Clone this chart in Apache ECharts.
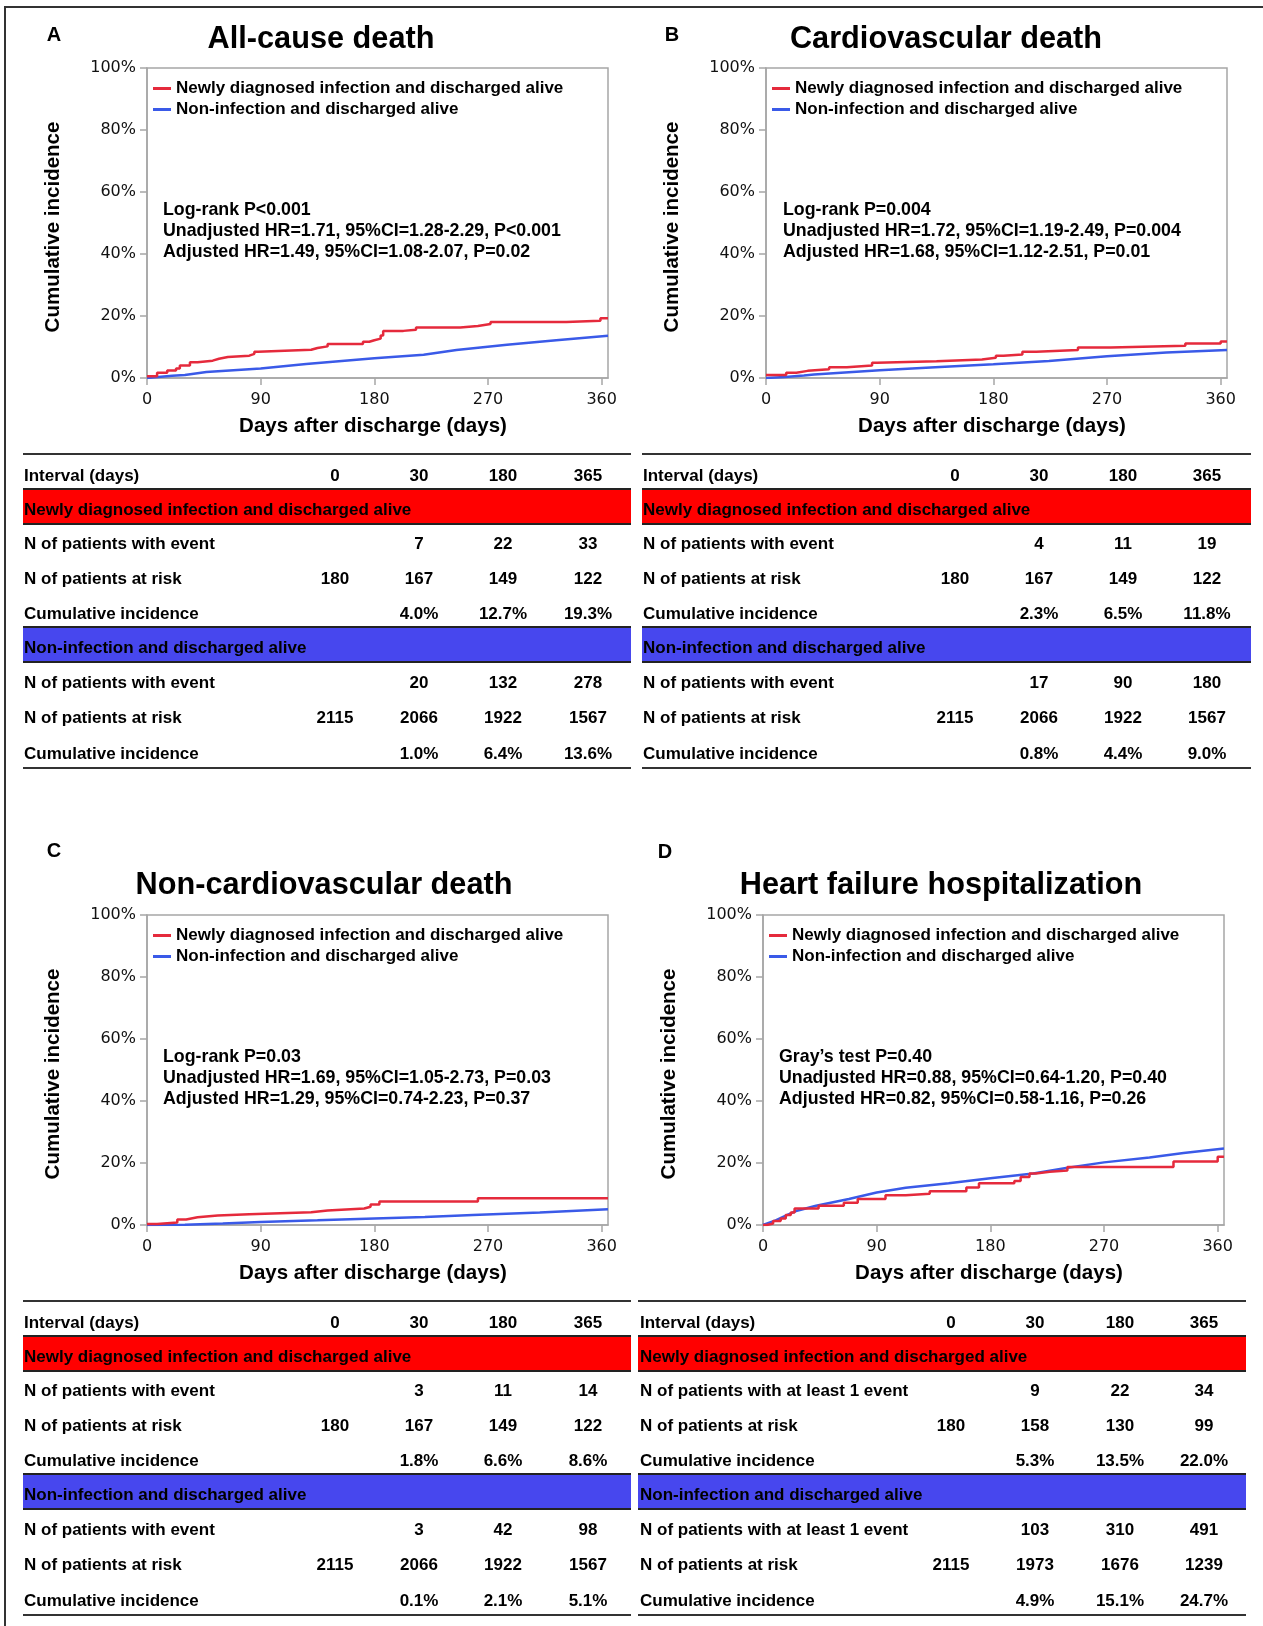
<!DOCTYPE html>
<html>
<head>
<meta charset="utf-8">
<script src="https://cdn.jsdelivr.net/npm/echarts@6/dist/echarts.min.js"></script>
<style>
  html, body { margin: 0; padding: 0; background: #fff; }
  #chart { width: 1263px; height: 1626px; }
</style>
</head>
<body>
<div id="chart"></div>
<script>
// ---- text ----
const nameInf = 'Newly diagnosed infection and discharged alive';
const nameNon = 'Non-infection and discharged alive';
const panelLetters = ['A', 'B', 'C', 'D'];
const panelTitles = ['All-cause death', 'Cardiovascular death', 'Non-cardiovascular death', 'Heart failure hospitalization'];
const xAxisTitle = 'Days after discharge (days)';
const yAxisTitle = 'Cumulative incidence';
const xTicks = [0, 90, 180, 270, 360];
const yTicks = [0, 20, 40, 60, 80, 100];

const statsA = ['Log-rank P<0.001', 'Unadjusted HR=1.71, 95%CI=1.28-2.29, P<0.001', 'Adjusted HR=1.49, 95%CI=1.08-2.07, P=0.02'];
const statsB = ['Log-rank P=0.004', 'Unadjusted HR=1.72, 95%CI=1.19-2.49, P=0.004', 'Adjusted HR=1.68, 95%CI=1.12-2.51, P=0.01'];
const statsC = ['Log-rank P=0.03', 'Unadjusted HR=1.69, 95%CI=1.05-2.73, P=0.03', 'Adjusted HR=1.29, 95%CI=0.74-2.23, P=0.37'];
const statsD = ['Gray\u2019s test P=0.40', 'Unadjusted HR=0.88, 95%CI=0.64-1.20, P=0.40', 'Adjusted HR=0.82, 95%CI=0.58-1.16, P=0.26'];

// ---- cumulative incidence curves: [day, %] ----
const curveA_inf = [[0,0.6],[8,1.7],[16,2.4],[23,3.1],[26,4.0],[34,5.1],[40,5.6],[52,6.2],[57,6.8],[64,7.2],[81,7.8],[85,8.5],[88,9.1],[130,9.7],[135,10.2],[143,11.0],[171,11.7],[176,12.2],[180,12.7],[185,13.7],[187,15.2],[203,15.6],[213,16.3],[248,16.8],[262,17.4],[272,18.1],[332,18.5],[359,19.3],[365,19.3]];
const curveA_non = [[0,0],[20,0.7],[30,1.0],[47,1.9],[90,3.1],[126,4.5],[180,6.4],[219,7.5],[245,9.0],[285,10.7],[324,12.2],[365,13.6]];

const curveB_inf = [[0,1.0],[16,1.7],[24,2.3],[33,2.8],[50,3.5],[64,4.0],[84,4.9],[88,5.4],[135,6.0],[171,6.5],[182,7.2],[188,7.6],[203,8.5],[214,9.0],[247,9.8],[273,10.4],[332,11.1],[360,11.8],[365,11.8]];
const curveB_non = [[0,0],[15,0.3],[30,0.8],[38,1.1],[90,2.5],[134,3.5],[180,4.4],[224,5.5],[270,7.0],[317,8.2],[365,9.0]];

const curveC_inf = [[0,0.3],[8,0.8],[24,1.8],[31,2.2],[36,2.5],[40,3.1],[56,3.5],[81,4.1],[130,4.7],[143,5.3],[172,5.9],[177,6.6],[184,7.6],[262,8.6],[365,8.6]];
const curveC_non = [[0,0],[30,0.1],[60,0.5],[90,1.0],[135,1.5],[180,2.1],[220,2.6],[258,3.2],[311,4.0],[365,5.1]];

const curveD_inf = [[0,0],[3,0.5],[8,1.3],[14,2.1],[18,3.2],[22,4.0],[25,5.3],[44,6.2],[64,7.2],[75,8.4],[97,9.6],[113,10.1],[132,10.9],[161,12.1],[171,13.5],[199,14.2],[204,15.5],[211,16.6],[216,17.2],[227,17.6],[241,18.7],[325,20.5],[360,22.0],[365,22.0]];
const curveD_non = [[0,0],[10,1.5],[18,3.0],[26,4.5],[30,4.9],[42,6.2],[68,8.4],[90,10.5],[113,12.0],[147,13.5],[180,15.1],[214,16.6],[240,18.4],[270,20.2],[306,21.8],[333,23.2],[365,24.7]];

// ---- number-at-risk tables ----
const intervalDays = ['0', '30', '180', '365'];
const rowLabels = ['N of patients with event', 'N of patients at risk', 'Cumulative incidence'];
const rowLabelsHF = ['N of patients with at least 1 event', 'N of patients at risk', 'Cumulative incidence'];

const eventsA_inf = ['', '7', '22', '33'];
const riskA_inf = ['180', '167', '149', '122'];
const cumA_inf = ['', '4.0%', '12.7%', '19.3%'];
const eventsA_non = ['', '20', '132', '278'];
const riskA_non = ['2115', '2066', '1922', '1567'];
const cumA_non = ['', '1.0%', '6.4%', '13.6%'];

const eventsB_inf = ['', '4', '11', '19'];
const riskB_inf = ['180', '167', '149', '122'];
const cumB_inf = ['', '2.3%', '6.5%', '11.8%'];
const eventsB_non = ['', '17', '90', '180'];
const riskB_non = ['2115', '2066', '1922', '1567'];
const cumB_non = ['', '0.8%', '4.4%', '9.0%'];

const eventsC_inf = ['', '3', '11', '14'];
const riskC_inf = ['180', '167', '149', '122'];
const cumC_inf = ['', '1.8%', '6.6%', '8.6%'];
const eventsC_non = ['', '3', '42', '98'];
const riskC_non = ['2115', '2066', '1922', '1567'];
const cumC_non = ['', '0.1%', '2.1%', '5.1%'];

const eventsD_inf = ['', '9', '22', '34'];
const riskD_inf = ['180', '158', '130', '99'];
const cumD_inf = ['', '5.3%', '13.5%', '22.0%'];
const eventsD_non = ['', '103', '310', '491'];
const riskD_non = ['2115', '1973', '1676', '1239'];
const cumD_non = ['', '4.9%', '15.1%', '24.7%'];

// ---- styling ----
const FONT = '"Liberation Sans", Arial, Helvetica, sans-serif';
const TICK_FONT = '"DejaVu Sans", Verdana, sans-serif';
const RED = '#e52a3c';
const BLUE = '#3a5ae8';
const BAND_RED = '#ff0000';
const BAND_BLUE = '#4747ee';
const AXIS_GRAY = '#a6a6a6';

// panel layout (pixel positions)
const layout = [
  { grid: [147, 68],  letter: [54, 35],  title: [321, 40],  stats: [163, 210],  tableTop: 454,  tableX: [23, 631],   labelX: 24,  cols: [335, 419, 503, 588] },
  { grid: [766, 68],  letter: [672, 35], title: [946, 40],  stats: [783, 210],  tableTop: 454,  tableX: [642, 1251], labelX: 643, cols: [955, 1039, 1123, 1207] },
  { grid: [147, 915], letter: [54, 851], title: [324, 886], stats: [163, 1057], tableTop: 1301, tableX: [23, 631],   labelX: 24,  cols: [335, 419, 503, 588] },
  { grid: [763, 915], letter: [665, 852], title: [941, 886], stats: [779, 1057], tableTop: 1301, tableX: [638, 1246], labelX: 640, cols: [951, 1035, 1120, 1204] }
];
const GRID_W = 461, GRID_H = 310;

const panelStats = [statsA, statsB, statsC, statsD];
const curvesInf = [curveA_inf, curveB_inf, curveC_inf, curveD_inf];
const curvesNon = [curveA_non, curveB_non, curveC_non, curveD_non];
const tableRows = [
  { labels: rowLabels,   inf: [eventsA_inf, riskA_inf, cumA_inf], non: [eventsA_non, riskA_non, cumA_non] },
  { labels: rowLabels,   inf: [eventsB_inf, riskB_inf, cumB_inf], non: [eventsB_non, riskB_non, cumB_non] },
  { labels: rowLabels,   inf: [eventsC_inf, riskC_inf, cumC_inf], non: [eventsC_non, riskC_non, cumC_non] },
  { labels: rowLabelsHF, inf: [eventsD_inf, riskD_inf, cumD_inf], non: [eventsD_non, riskD_non, cumD_non] }
];

function txt(x, y, text, size, align, opts) {
  opts = opts || {};
  return {
    type: 'text', x: x, y: y, silent: true,
    style: {
      text: text,
      font: (opts.weight || 'bold') + ' ' + size + 'px ' + (opts.family || FONT),
      fill: opts.color || '#000',
      align: align, textAlign: align,
      verticalAlign: 'middle', textVerticalAlign: 'middle'
    }
  };
}
function hline(x1, x2, y, color, w) {
  return { type: 'line', silent: true, shape: { x1: x1, y1: y, x2: x2, y2: y }, style: { stroke: color, lineWidth: w } };
}

const grids = [], xAxes = [], yAxes = [], series = [], legends = [], graphics = [];

// outer frame (top and left edges)
graphics.push(hline(4, 1263, 7, '#333', 2));
graphics.push({ type: 'line', silent: true, shape: { x1: 5, y1: 6, x2: 5, y2: 1626 }, style: { stroke: '#333', lineWidth: 2 } });

layout.forEach(function (L, i) {
  grids.push({
    left: L.grid[0], top: L.grid[1], width: GRID_W, height: GRID_H,
    show: true, borderColor: AXIS_GRAY, borderWidth: 1.5, backgroundColor: 'transparent'
  });
  xAxes.push({
    type: 'value', gridIndex: i, min: 0, max: 365,
    name: xAxisTitle, nameLocation: 'middle', nameGap: 38,
    nameTextStyle: { fontFamily: FONT, fontWeight: 'bold', fontSize: 20.5, color: '#000', padding: [0, 9, 0, 0] },
    axisLine: { show: true, lineStyle: { color: AXIS_GRAY, width: 1.5 } },
    axisTick: { show: true, inside: false, length: 7, customValues: xTicks, lineStyle: { color: AXIS_GRAY, width: 1.5 } },
    axisLabel: { customValues: xTicks, margin: 14, fontFamily: TICK_FONT, fontSize: 16, color: '#111' },
    splitLine: { show: false }
  });
  yAxes.push({
    type: 'value', gridIndex: i, min: 0, max: 100, interval: 20,
    name: yAxisTitle, nameLocation: 'middle', nameGap: 83, nameRotate: 90,
    nameTextStyle: { fontFamily: FONT, fontWeight: 'bold', fontSize: 20.5, color: '#000', padding: [0, 8, 0, 0] },
    axisLine: { show: true, lineStyle: { color: AXIS_GRAY, width: 1.5 } },
    axisTick: { show: true, inside: false, length: 7, lineStyle: { color: AXIS_GRAY, width: 1.5 } },
    axisLabel: { margin: 11, fontFamily: TICK_FONT, fontSize: 16, color: '#111', formatter: function (v) { return v + '%'; } },
    splitLine: { show: false }
  });
  series.push({
    name: nameInf, type: 'line', xAxisIndex: i, yAxisIndex: i, data: curvesInf[i],
    step: 'end', showSymbol: false, silent: true, z: 4,
    lineStyle: { color: RED, width: 2.5 }, itemStyle: { color: RED }
  });
  series.push({
    name: nameNon, type: 'line', xAxisIndex: i, yAxisIndex: i, data: curvesNon[i],
    showSymbol: false, silent: true, z: 3,
    lineStyle: { color: BLUE, width: 2.5 }, itemStyle: { color: BLUE }
  });
  legends.push({
    left: L.grid[0] + 6, top: L.grid[1] + 12, orient: 'vertical', padding: 0,
    itemWidth: 18, itemHeight: 3, itemGap: 4, icon: 'rect', selectedMode: false,
    textStyle: { fontFamily: FONT, fontWeight: 'bold', fontSize: 17, lineHeight: 17, color: '#000' },
    data: [nameInf, nameNon]
  });

  // panel letter, title, statistics
  graphics.push(txt(L.letter[0], L.letter[1], panelLetters[i], 20, 'center'));
  graphics.push(txt(L.title[0], L.title[1], panelTitles[i], 30.7, 'center'));
  panelStats[i].forEach(function (s, k) {
    graphics.push(txt(L.stats[0], L.stats[1] + k * 21, s, 17.8, 'left'));
  });

  // table under the plot
  const T = L.tableTop, x1 = L.tableX[0], x2 = L.tableX[1];
  const R = tableRows[i];
  graphics.push(hline(x1, x2, T, '#333', 2));
  graphics.push(txt(L.labelX, T + 22, 'Interval (days)', 17, 'left'));
  intervalDays.forEach(function (d, c) { graphics.push(txt(L.cols[c], T + 22, d, 17, 'center')); });

  const bands = [
    { top: 35, fill: BAND_RED, label: nameInf, rows: R.inf, rowY: [90, 125, 160] },
    { top: 173, fill: BAND_BLUE, label: nameNon, rows: R.non, rowY: [229, 264, 300] }
  ];
  bands.forEach(function (b) {
    graphics.push({ type: 'rect', silent: true, shape: { x: x1, y: T + b.top, width: x2 - x1, height: 35 }, style: { fill: b.fill } });
    graphics.push(hline(x1, x2, T + b.top, '#222', 2));
    graphics.push(hline(x1, x2, T + b.top + 35, '#222', 2));
    graphics.push(txt(L.labelX, T + b.top + 21, b.label, 17, 'left'));
    b.rows.forEach(function (vals, r) {
      graphics.push(txt(L.labelX, T + b.rowY[r], R.labels[r], 17, 'left'));
      vals.forEach(function (v, c) { if (v !== '') graphics.push(txt(L.cols[c], T + b.rowY[r], v, 17, 'center')); });
    });
  });
  graphics.push(hline(x1, x2, T + 314, '#333', 2));
});

const chart = echarts.init(document.getElementById('chart'), null, { renderer: 'canvas' });
chart.setOption({
  backgroundColor: '#fff',
  animation: false,
  textStyle: { fontFamily: FONT },
  grid: grids,
  xAxis: xAxes,
  yAxis: yAxes,
  legend: legends,
  series: series,
  graphic: { elements: graphics }
});
</script>
</body>
</html>
